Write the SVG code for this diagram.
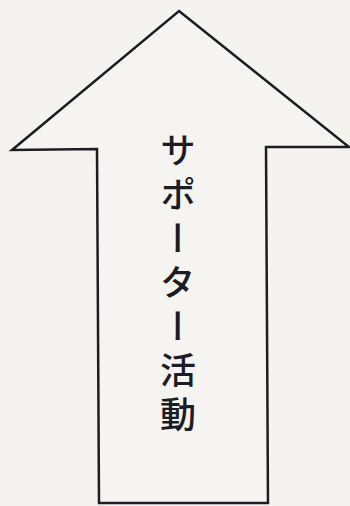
<svg xmlns="http://www.w3.org/2000/svg" width="350" height="506" viewBox="0 0 350 506">
<style>
.arrow{fill:#f5f4f0;stroke:#1c1c24;stroke-width:2.5;stroke-linejoin:miter}
.lbl{font-family:"Noto Sans CJK JP","Noto Sans CJK SC",sans-serif;font-size:36px;font-weight:500;fill:#1c1c24;writing-mode:vertical-rl;letter-spacing:8px}
</style>
<rect width="350" height="506" fill="#f4f3ef"/>
<g id="arrow">
<polygon class="arrow" points="179,11 349,147 266,147 268,503 99,503 97,149 12,150"/>
<text class="lbl" x="178" y="132">サポーター活動</text>
</g>
</svg>
